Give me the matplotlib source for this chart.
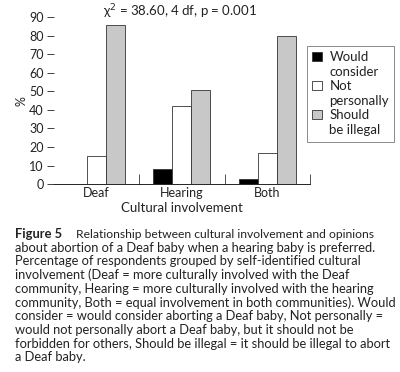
import numpy as np
import matplotlib.pyplot as plt
from matplotlib.patches import Rectangle
from matplotlib.container import BarContainer
from matplotlib.legend_handler import HandlerPatch, update_from_first_child

plt.rcParams['font.family'] = ['Lato', 'DejaVu Sans']

# data
groups = ['Deaf', 'Hearing', 'Both']
would_consider = [0, 8, 3]
not_personally = [15, 42, 17]
should_be_illegal = [85.5, 50.5, 80]
series_labels = ['Would\nconsider', 'Not\npersonally', 'Should\nbe illegal']
yticks = [0, 10, 20, 30, 40, 50, 60, 70, 80, 90]

caption_lines = [
    'about abortion of a Deaf baby when a hearing baby is preferred.',
    'Percentage of respondents grouped by self-identified cultural',
    'involvement (Deaf = more culturally involved with the Deaf',
    'community, Hearing = more culturally involved with the hearing',
    'community, Both = equal involvement in both communities). Would',
    'consider = would consider aborting a Deaf baby, Not personally =',
    'would not personally abort a Deaf baby, but it should not be',
    'forbidden for others, Should be illegal = it should be illegal to abort',
    'a Deaf baby.',
]

txt = '#222222'
fig = plt.figure(figsize=(4, 3.72), dpi=100)
ax = fig.add_axes([0.134, 0.505, 0.641, 0.449])

x = np.arange(len(groups))
w = 0.222
series = [would_consider, not_personally, should_be_illegal]
colors = ['#000000', '#ffffff', '#c8c8c8']
for i, (vals, c, lab) in enumerate(zip(series, colors, series_labels)):
    ax.bar(x + (i - 1) * w, vals, w, color=c, edgecolor='#333333',
           linewidth=0.6, label=lab)

ax.set_xlim(-0.5, 2.5)
ax.set_ylim(0, 90)
ax.set_yticks(yticks)
ax.set_xticks(x)
ax.set_xticklabels(groups)
ax.set_xticks([0.5, 1.5, 2.5], minor=True)
ax.tick_params(axis='x', which='major', length=0, labelsize=9, colors=txt, pad=2)
ax.tick_params(axis='x', which='minor', length=7, direction='in', width=0.6, color='#333333')
ax.tick_params(axis='y', length=5, width=0.6, labelsize=9, colors=txt, pad=2)
for s in ['top', 'right', 'left']:
    ax.spines[s].set_visible(False)
ax.spines['bottom'].set_linewidth(0.6)
ax.set_ylabel('%', fontsize=9, color=txt, labelpad=1)
ax.set_xlabel('Cultural involvement', fontsize=9.5, color=txt, labelpad=2)
fig.text(180 / 400, 1 - 12 / 372, 'χ$^2$ = 38.60, 4 df, p = 0.001',
         fontsize=9.5, color=txt, ha='center', va='center')


# legend squares sit next to the first line of each label
def top_square(legend, orig_handle, xdescent, ydescent, width, height, fontsize):
    return Rectangle((-xdescent, -ydescent + 6), width, height)


leg = ax.legend(loc='upper left', bbox_to_anchor=(307 / 400, 1 - 46 / 372),
                bbox_transform=fig.transFigure, fontsize=9.5, frameon=True,
                fancybox=False, handlelength=0.7, handleheight=0.7,
                handletextpad=0.6, labelspacing=0.15, borderpad=0.4,
                borderaxespad=0,
                handler_map={BarContainer: HandlerPatch(
                    patch_func=top_square, update_func=update_from_first_child)})
leg.get_frame().set_edgecolor('#555555')
leg.get_frame().set_linewidth(0.6)
for t in leg.get_texts():
    t.set_color(txt)
    t.set_linespacing(1.3)

# caption
fig.text(15 / 400, 1 - 234 / 372, 'Figure 5', fontsize=9.3, fontweight='bold',
         color=txt, va='center')
fig.text(76 / 400, 1 - 234 / 372,
         'Relationship between cultural involvement and opinions',
         fontsize=8.75, color=txt, va='center')
for k, line in enumerate(caption_lines):
    fig.text(15 / 400, 1 - (234 + 13.7 * (k + 1)) / 372, line, fontsize=9.3,
             color=txt, va='center')

fig.savefig('out.png', dpi=100)
